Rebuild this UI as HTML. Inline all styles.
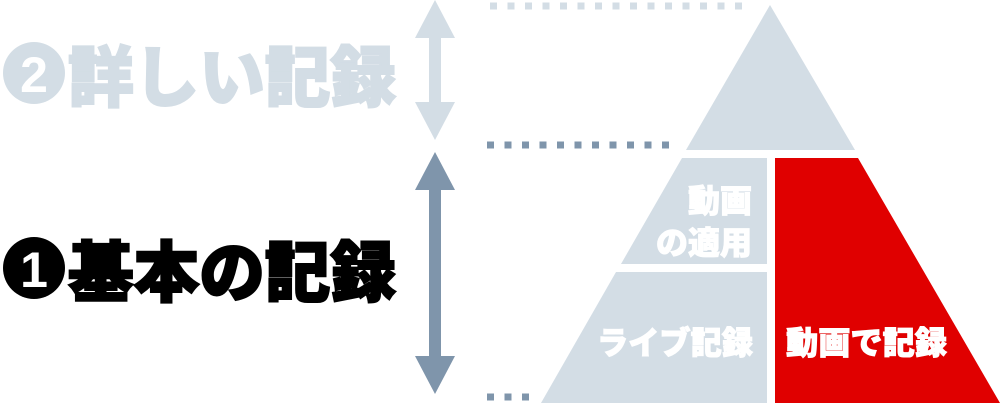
<!DOCTYPE html>
<html><head><meta charset="utf-8"><style>
html,body{margin:0;padding:0;background:#fff;width:1000px;height:403px;overflow:hidden}
text{font-family:"Liberation Sans","Noto Sans CJK JP",sans-serif;font-weight:900}
</style></head><body>
<svg width="1000" height="403" viewBox="0 0 1000 403" xmlns="http://www.w3.org/2000/svg">
<circle cx="34" cy="73" r="31" fill="#d3dde5"/>
<text x="34" y="92" font-size="50" fill="#fff" text-anchor="middle">2</text>
<text x="68" y="101" font-size="66" fill="#d3dde5" stroke="#d3dde5" stroke-width="2" textLength="328" lengthAdjust="spacingAndGlyphs">詳しい記録</text>
<circle cx="34" cy="268" r="31" fill="#000"/>
<text x="34" y="287" font-size="50" fill="#fff" text-anchor="middle">1</text>
<text x="68" y="296" font-size="66" fill="#000" stroke="#000" stroke-width="2" textLength="328" lengthAdjust="spacingAndGlyphs">基本の記録</text>
<polygon points="435,0 455,38 441,38 441,102 455,102 435,140 415,102 429,102 429,38 415,38" fill="#d3dde5"/>
<polygon points="435,152 455,190 441,190 441,356 455,356 435,394 415,356 429,356 429,190 415,190" fill="#7f95ab"/>
<line x1="490" y1="6" x2="745" y2="6" stroke="#d3dde5" stroke-width="7" stroke-dasharray="7,10.5"/>
<line x1="487" y1="145" x2="672" y2="145" stroke="#7f95ab" stroke-width="7" stroke-dasharray="7,10.5"/>
<line x1="487" y1="397" x2="532" y2="397" stroke="#7f95ab" stroke-width="7" stroke-dasharray="7,10.5"/>
<polygon points="770,5 855,150 686,150" fill="#d3dde5"/>
<polygon points="682,158 767,158 767,264 621,264" fill="#d3dde5"/>
<polygon points="616,272 767,272 767,403 541,403" fill="#d3dde5"/>
<polygon points="775,158 858,158 1000,403 775,403" fill="#e00000"/>
<g fill="#fff" stroke="#fff" stroke-width="1">
<text x="752" y="212" font-size="32" text-anchor="end">動画</text>
<text x="752" y="254" font-size="32" text-anchor="end">の適用</text>
<text x="597" y="354" font-size="32" textLength="156" lengthAdjust="spacingAndGlyphs">ライブ記録</text>
<text x="786" y="354" font-size="32" textLength="161" lengthAdjust="spacingAndGlyphs">動画で記録</text>
</g>
</svg>
</body></html>
